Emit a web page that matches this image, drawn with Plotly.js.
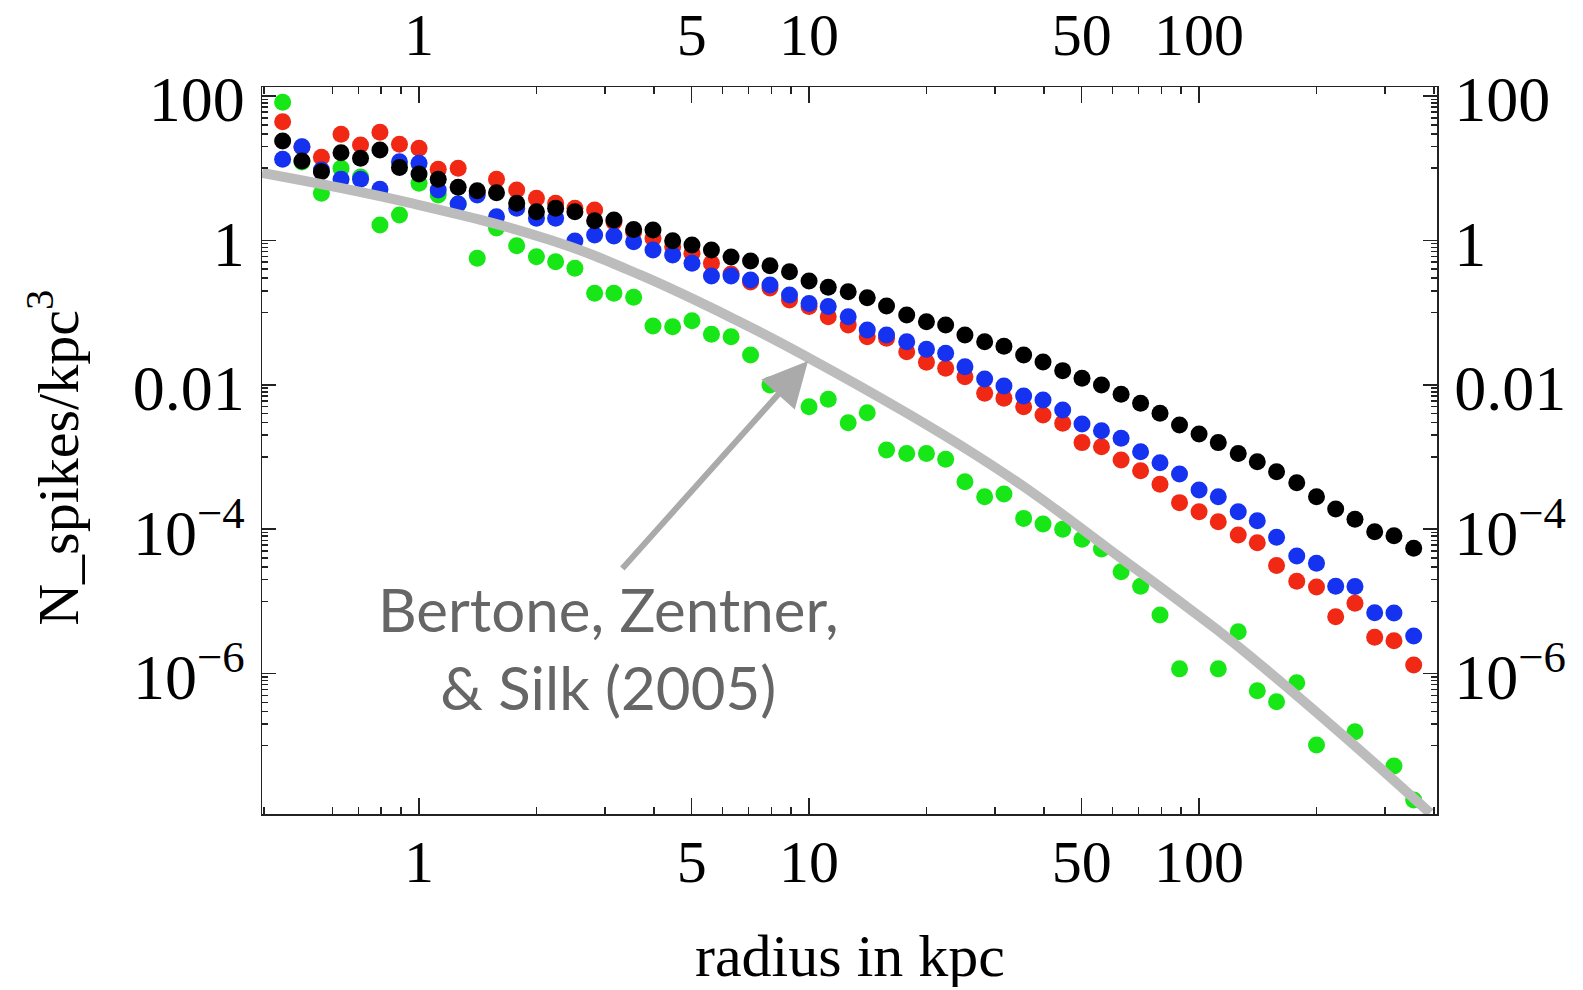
<!DOCTYPE html>
<html>
<head>
<meta charset="utf-8">
<script src="https://cdn.plot.ly/plotly-3.0.1.min.js"></script>
<style>html,body{margin:0;padding:0;background:#fff;}</style>
</head>
<body>
<div id="chart" style="width:1583px;height:990px;"></div>
<script>
// radius bins (kpc)
const radius = [0.447, 0.501, 0.562, 0.631, 0.708, 0.794, 0.891, 1, 1.12, 1.26, 1.41, 1.58, 1.78, 2.00, 2.24, 2.51, 2.82, 3.16, 3.55, 3.98, 4.47, 5.01, 5.62, 6.31, 7.08, 7.94, 8.91, 10, 11.2, 12.6, 14.1, 15.8, 17.8, 20.0, 22.4, 25.1, 28.2, 31.6, 35.5, 39.8, 44.7, 50.1, 56.2, 63.1, 70.8, 79.4, 89.1, 100, 112, 126, 141, 158, 178, 200, 224, 251, 282, 316, 355];

const greenN = [81.8, 12.2, 4.49, 9.97, 7.55, 1.63, 2.25, 6.18, 4.25, 3.19, 0.565, 1.48, 0.844, 0.594, 0.507, 0.411, 0.185, 0.185, 0.163, 0.0652, 0.0637, 0.0772, 0.0500, 0.0463, 0.0258, 0.00993, 0.0110, 0.00497, 0.00629, 0.00298, 0.00410, 0.00125, 0.00112, 0.00112, 0.000928, 0.000454, 0.000282, 0.000307, 0.000141, 0.000118, 0.0000995, 0.0000723, 0.0000531, 0.0000257, 0.0000162, 0.00000647, 0.00000116, null, 0.00000116, 0.00000380, 5.78e-7, 4.07e-7, 7.46e-7, 1.02e-7, null, 1.56e-7, null, 5.24e-8, 1.77e-8];

const redN = [44.1, 19.7, 14.2, 29.5, 21.0, 31.4, 21.4, 18.9, 9.65, 9.97, 4.68, 7.02, 4.99, 3.83, 3.26, 2.78, 2.64, 1.80, 1.31, 1.07, 0.818, 0.662, 0.481, 0.342, 0.265, 0.219, 0.149, 0.121, 0.0877, 0.0673, 0.0463, 0.0440, 0.0287, 0.0205, 0.0169, 0.0129, 0.00762, 0.00650, 0.00497, 0.00381, 0.00293, 0.00158, 0.00139, 0.000908, 0.000645, 0.000418, 0.000233, 0.000174, 0.000127, 0.0000830, 0.0000649, 0.0000314, 0.0000190, 0.0000158, 0.00000613, 0.00000939, 0.00000318, 0.00000285, 0.00000131];

const blueN = [13.3, 19.8, 9.44, 7.02, 7.02, 5.10, 12.3, 11.7, 4.99, 3.19, 4.25, 2.13, 2.78, 2.02, 2.02, 0.981, 1.19, 1.15, 0.959, 0.736, 0.627, 0.481, 0.321, 0.321, 0.283, 0.241, 0.175, 0.134, 0.121, 0.0877, 0.0574, 0.0489, 0.0395, 0.0310, 0.0273, 0.0178, 0.0120, 0.00961, 0.00699, 0.00615, 0.00447, 0.00286, 0.00231, 0.00181, 0.00118, 0.000833, 0.000581, 0.000349, 0.000282, 0.000174, 0.000131, 0.0000771, 0.0000425, 0.0000336, 0.0000162, 0.0000161, 0.00000696, 0.00000688, 0.00000331];

const blackN = [23.8, 12.6, 8.94, 16.4, 13.7, 17.9, 10.2, 8.31, 7.02, 5.44, 4.88, 4.58, 3.26, 2.50, 2.78, 2.50, 1.87, 1.92, 1.42, 1.39, 0.990, 0.863, 0.736, 0.589, 0.518, 0.446, 0.368, 0.274, 0.224, 0.195, 0.161, 0.123, 0.0926, 0.0747, 0.0673, 0.0489, 0.0395, 0.0341, 0.0258, 0.0207, 0.0157, 0.0123, 0.00993, 0.00738, 0.00554, 0.00402, 0.00277, 0.00208, 0.00158, 0.00112, 0.000860, 0.000625, 0.000440, 0.000282, 0.000190, 0.000137, 0.0000922, 0.0000811, 0.0000543];

// Bertone, Zentner & Silk (2005) curve
const bzsR = [0.396, 0.948, 2.17, 3.69, 6.65, 9.89, 17.8, 26.3, 37.5, 59.1, 93.1, 122, 221, 391];
const bzsN = [8.58, 3.30, 1.01, 0.332, 0.0741, 0.0242, 0.00406, 0.00113, 0.000317, 0.0000514, 0.00000835, 0.00000273, 1.82e-7, 1.17e-8];

// tick labels
const xTickVals = [1, 5, 10, 50, 100];
const xTickText = ['1', '5', '10', '50', '100'];
const yTickVals = [100, 1, 0.01, 1e-4, 1e-6];
const yTickText = ['100', '1', '0.01', '10<sup>\u22124</sup>', '10<sup>\u22126</sup>'];

// minor ticks
const xMinor = [];
[0.1, 1, 10, 100].forEach(d => { for (let m = 2; m <= 9; m++) { if (m !== 5) xMinor.push(m * d); } });
const yMinor = [];
[100, 1, 0.01, 1e-4, 1e-6, 1e-8].forEach(M => {
  yMinor.push(M / 10);
  for (let m = 2; m <= 9; m++) yMinor.push(m * M / 10);
});

const serif = 'Liberation Serif, Times New Roman, serif';
const mk = (col) => ({color: col, size: 17, line: {width: 0}});

const traces = [
  {x: radius, y: greenN, mode: 'markers', type: 'scatter', marker: mk('#17e617'), name: 'green'},
  {x: radius, y: redN, mode: 'markers', type: 'scatter', marker: mk('#f02814'), name: 'red'},
  {x: radius, y: blueN, mode: 'markers', type: 'scatter', marker: mk('#1432f0'), name: 'blue'},
  {x: radius, y: blackN, mode: 'markers', type: 'scatter', marker: mk('#000000'), name: 'black'},
  {x: bzsR, y: bzsN, mode: 'lines', type: 'scatter', line: {color: '#bcbcbc', width: 10, shape: 'spline', smoothing: 1.2}, name: 'BZS'},
  {x: [], y: [], xaxis: 'x2', yaxis: 'y2', type: 'scatter', mode: 'markers', showlegend: false}
];

const xr = [-0.4026, 2.610];
const yr = [-7.946, 2.125];
const axCommon = {
  type: 'log', showgrid: false, zeroline: false, showline: true, linecolor: '#222', linewidth: 1.5,
  ticks: 'inside', tickcolor: '#222', tickwidth: 1.5
};
const xMinorCfg = {tickvals: xMinor, ticks: 'inside', ticklen: 7, tickwidth: 1.5, tickcolor: '#222', showgrid: false};
const yMinorCfg = {tickvals: yMinor, ticks: 'inside', ticklen: 6, tickwidth: 1.5, tickcolor: '#222', showgrid: false};

const layout = {
  width: 1583, height: 990,
  margin: {l: 262, r: 146, t: 87, b: 176, pad: 0},
  paper_bgcolor: '#fff', plot_bgcolor: '#fff',
  showlegend: false,
  xaxis: Object.assign({}, axCommon, {
    range: xr, tickvals: xTickVals, ticktext: xTickText, ticklen: 16, ticklabelstandoff: -6,
    tickfont: {family: serif, size: 60, color: '#000'}, minor: xMinorCfg
  }),
  xaxis2: Object.assign({}, axCommon, {
    overlaying: 'x', side: 'top', matches: 'x', range: xr, tickvals: xTickVals, ticktext: xTickText, ticklen: 16,
    ticklabelstandoff: 7,
    tickfont: {family: serif, size: 60, color: '#000'}, minor: xMinorCfg
  }),
  yaxis: Object.assign({}, axCommon, {
    range: yr, tickvals: yTickVals, ticktext: yTickText, ticklen: 14, ticklabelstandoff: 3, ticklabelshift: 3,
    tickfont: {family: serif, size: 64, color: '#000'}, minor: yMinorCfg
  }),
  yaxis2: Object.assign({}, axCommon, {
    overlaying: 'y', side: 'right', matches: 'y', range: yr, tickvals: yTickVals, ticktext: yTickText, ticklen: 14,
    ticklabelstandoff: 3, ticklabelshift: 3,
    tickfont: {family: serif, size: 64, color: '#000'}, minor: yMinorCfg
  }),
  annotations: [
    {xref: 'paper', yref: 'paper', x: 0.5, y: -0.196, xanchor: 'center', yanchor: 'middle', showarrow: false,
     height: 62, borderpad: 0, text: 'radius in kpc', font: {family: serif, size: 60, color: '#000'}},
    {xref: 'paper', yref: 'paper', x: -0.177, y: 0.49, xanchor: 'center', yanchor: 'middle', showarrow: false,
     textangle: -90, text: 'N_spikes/kpc<sup>3</sup>', font: {family: serif, size: 58, color: '#000'}},
    {xref: 'paper', yref: 'paper', x: 0.2945, y: 0.2283, xanchor: 'center', yanchor: 'middle', showarrow: false,
     align: 'center', text: 'Bertone, Zentner,<br>& Silk (2005)', font: {family: 'Lato, sans-serif', size: 60, color: '#666666'}},
    {xref: 'paper', yref: 'paper', x: 0.4647, y: 0.6231, ax: -187, ay: 209, axref: 'pixel', ayref: 'pixel',
     showarrow: true, text: '', arrowhead: 2, arrowsize: 1.5, arrowwidth: 6, arrowcolor: '#aaaaaa', standoff: 0, startstandoff: 0}
  ]
};

Plotly.newPlot('chart', traces, layout, {displayModeBar: false, staticPlot: true});
</script>
</body>
</html>
